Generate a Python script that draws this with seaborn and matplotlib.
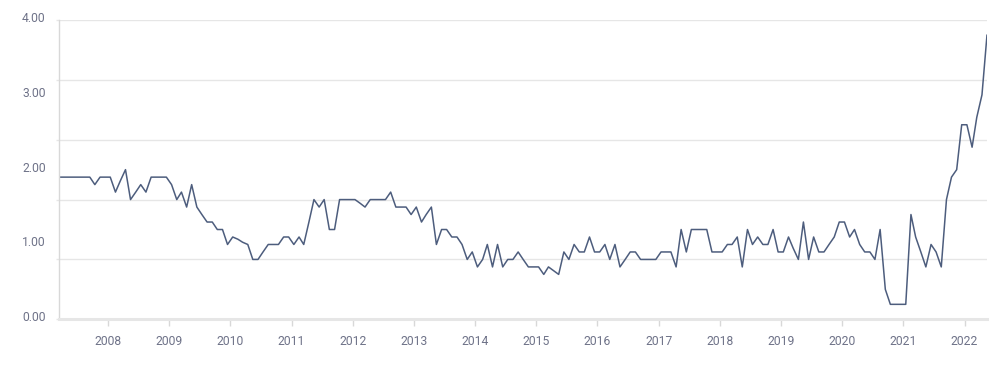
import matplotlib
matplotlib.use('Agg')
from matplotlib import pyplot as plt
import matplotlib.ticker as mtick
import matplotlib.dates as mdates
import matplotlib.transforms as mtrans
import seaborn as sns
import pandas as pd

# monthly values, March 2007 .. May 2022
values = [
    1.9, 1.9, 1.9, 1.9, 1.9, 1.9, 1.9, 1.8, 1.9, 1.9,
    1.9, 1.7, 1.85, 2.0, 1.6, 1.7, 1.8, 1.7, 1.9, 1.9,
    1.9, 1.9, 1.8, 1.6, 1.7, 1.5, 1.8, 1.5, 1.4, 1.3,
    1.3, 1.2, 1.2, 1.0, 1.1, 1.07, 1.03, 1.0, 0.8, 0.8,
    0.9, 1.0, 1.0, 1.0, 1.1, 1.1, 1.0, 1.1, 1.0, 1.3,
    1.6, 1.5, 1.6, 1.2, 1.2, 1.6, 1.6, 1.6, 1.6, 1.55,
    1.5, 1.6, 1.6, 1.6, 1.6, 1.7, 1.5, 1.5, 1.5, 1.4,
    1.5, 1.3, 1.4, 1.5, 1.0, 1.2, 1.2, 1.1, 1.1, 1.0,
    0.8, 0.9, 0.7, 0.8, 1.0, 0.7, 1.0, 0.7, 0.8, 0.8,
    0.9, 0.8, 0.7, 0.7, 0.7, 0.6, 0.7, 0.65, 0.6, 0.9,
    0.8, 1.0, 0.9, 0.9, 1.1, 0.9, 0.9, 1.0, 0.8, 1.0,
    0.7, 0.8, 0.9, 0.9, 0.8, 0.8, 0.8, 0.8, 0.9, 0.9,
    0.9, 0.7, 1.2, 0.9, 1.2, 1.2, 1.2, 1.2, 0.9, 0.9,
    0.9, 1.0, 1.0, 1.1, 0.7, 1.2, 1.0, 1.1, 1.0, 1.0,
    1.2, 0.9, 0.9, 1.1, 0.95, 0.8, 1.3, 0.8, 1.1, 0.9,
    0.9, 1.0, 1.1, 1.3, 1.3, 1.1, 1.2, 1.0, 0.9, 0.9,
    0.8, 1.2, 0.4, 0.2, 0.2, 0.2, 0.2, 1.4, 1.1, 0.9,
    0.7, 1.0, 0.9, 0.7, 1.6, 1.9, 2.0, 2.6, 2.6, 2.3,
    2.7, 3.0, 3.8,
]
dates = pd.date_range('2007-03-01', periods=len(values), freq='MS') + pd.Timedelta(days=14)

y_labels = [0, 1, 2, 3, 4]
y_grid = [0, 0.8, 1.6, 2.4, 3.2, 4.0]
years = list(range(2008, 2023))

df = pd.DataFrame({'date': dates, 'value': values})

sns.set_theme(style='white')
plt.rcParams['font.family'] = ['Roboto', 'DejaVu Sans']

TEXT = '#6e7288'
GRID = '#e6e6e6'

fig = plt.figure(figsize=(10.05, 3.86), dpi=100)
ax = fig.add_axes([59 / 1005, (386 - 319.3) / 386, (987 - 59) / 1005, (319.3 - 20) / 386])

sns.lineplot(data=df, x='date', y='value', ax=ax, color='#4d5d7d', linewidth=1.1)

ax.set_xlim(dates[0], dates[-1])
ax.set_ylim(0, 4)
ax.set(xlabel='', ylabel='')

# gridlines don't line up with the labels in the original
ax.yaxis.remove_overlapping_locs = False
ax.yaxis.set_major_locator(mtick.FixedLocator(y_grid))
ax.yaxis.set_major_formatter(mtick.NullFormatter())
ax.yaxis.set_minor_locator(mtick.FixedLocator(y_labels))
ax.yaxis.set_minor_formatter(mtick.FuncFormatter(lambda v, p: f'{v:.2f}'))
ax.grid(axis='y', which='major', color=GRID, linewidth=1)
ax.tick_params(axis='y', which='major', left=True, length=2, color=GRID, width=1)
ax.tick_params(axis='y', which='minor', left=True, length=0, pad=9.5, labelsize=8.7, labelcolor=TEXT)
offset = mtrans.ScaledTranslation(0, 3 / 100, fig.dpi_scale_trans)
for lab in ax.yaxis.get_minorticklabels():
    lab.set_transform(lab.get_transform() + offset)

ax.xaxis.set_major_locator(mtick.FixedLocator([mdates.date2num(pd.Timestamp(f'{y}-01-01')) for y in years]))
ax.xaxis.set_major_formatter(mtick.FixedFormatter([str(y) for y in years]))
ax.tick_params(axis='x', which='major', bottom=True, length=5, width=1, color='#d8d8d8',
               pad=6, labelsize=8.7, labelcolor=TEXT)

for side in ['top', 'right']:
    ax.spines[side].set_visible(False)
ax.spines['left'].set_color('#d8d8d8')
ax.spines['left'].set_linewidth(1)
ax.spines['bottom'].set_color(GRID)
ax.spines['bottom'].set_linewidth(2.2)

plt.savefig('out.png', dpi=100)
